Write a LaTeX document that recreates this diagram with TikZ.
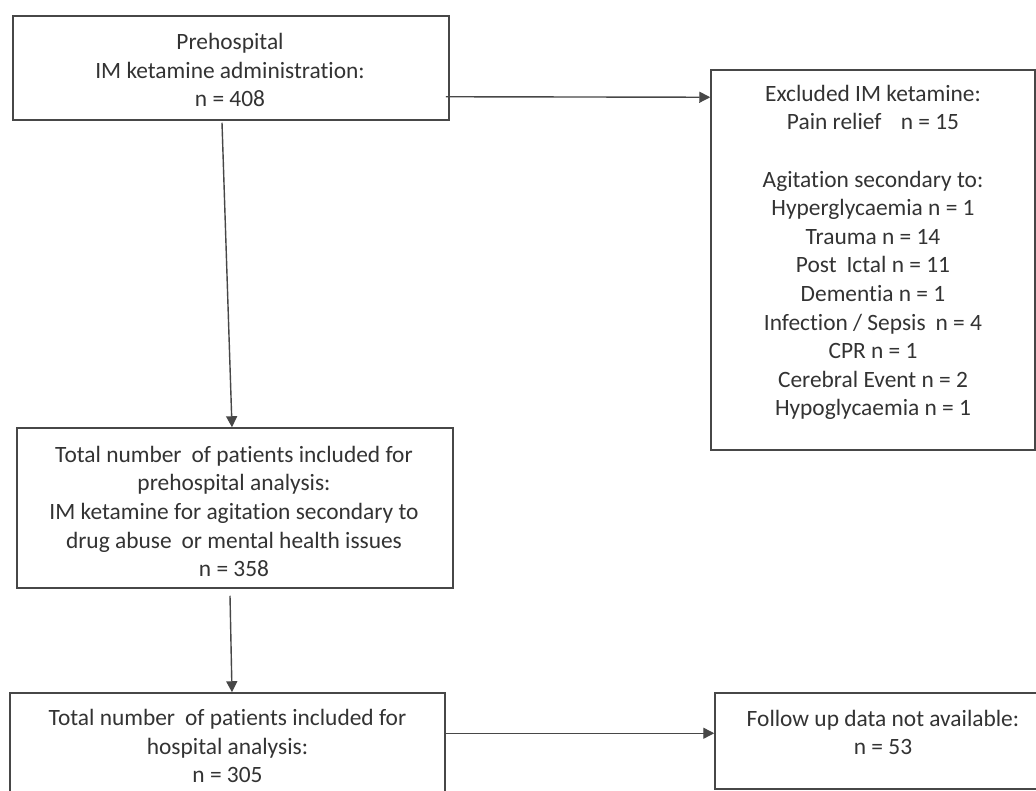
\documentclass[tikz,border=0pt]{standalone}
\usepackage{fontspec}
\setmainfont{Carlito}[Ligatures={NoCommon}]
\usetikzlibrary{arrows.meta,calc}
\begin{document}
\begin{tikzpicture}[x=1pt,y=-1pt,
  box/.style={draw=black!72, line width=1.5pt, rectangle, inner sep=0pt},
  txt/.style={align=center, text=black!80, font=\fontsize{23.4}{28.6}\selectfont, inner sep=0pt},
  arr/.style={draw=black!72, line width=1.4pt, -{Triangle[length=11pt,width=11pt]}}]
\useasboundingbox (0,0) rectangle (1036,791);
\clip (0,0) rectangle (1036,791);
\fill[white] (0,0) rectangle (1036,791);

\node[box, minimum width=436pt, minimum height=104pt] (b1) at (231,68) {};
\node[box, minimum width=324pt, minimum height=380pt] (b2) at (873,260) {};
\node[box, minimum width=436pt, minimum height=160pt] (b3) at (235,508) {};
\node[box, minimum width=435pt, minimum height=115pt] (b4) at (227.5,750.5) {};
\node[box, minimum width=336pt, minimum height=96pt] (b5) at (883,741) {};

\node[txt] (t1) at (230,70) {Prehospital\\IM ketamine administration:\\n = 408};
\node[txt] (t2) at (873,252.5) {Excluded IM ketamine:\\Pain relief\hspace{0.6em} n = 15\\[28.6pt]Agitation secondary to:\\Hyperglycaemia n = 1\\Trauma n = 14\\Post\hspace{0.2em} Ictal n = 11\\Dementia n = 1\\Infection / Sepsis\hspace{0.2em} n = 4\\CPR n = 1\\Cerebral Event n = 2\\Hypoglycaemia n = 1};
\node[txt] (t3) at (234,511.5) {Total number\hspace{0.2em} of patients included for\\prehospital analysis:\\IM ketamine for agitation secondary to\\drug abuse\hspace{0.2em} or mental health issues\\n = 358};
\node[txt] (t4) at (227.5,746) {Total number\hspace{0.2em} of patients included for\\hospital analysis:\\n = 305};
\node[txt] (t5) at (883,732.5) {Follow up data not available:\\n = 53};

\draw[arr] ($(b1.south east)+(-4,-24)$) -- ($(b2.north west)+(0,28)$);
\draw[arr] ($(b1.south)+(-9,2)$) -- ($(b3.north)+(-3,0)$);
\draw[arr] ($(b3.south)+(-5,7)$) -- ($(b4.north)+(4.5,0)$);
\draw[arr] ($(b4.north east)+(0,41)$) -- ($(b5.north west)+(0,41)$);
\end{tikzpicture}
\end{document}
